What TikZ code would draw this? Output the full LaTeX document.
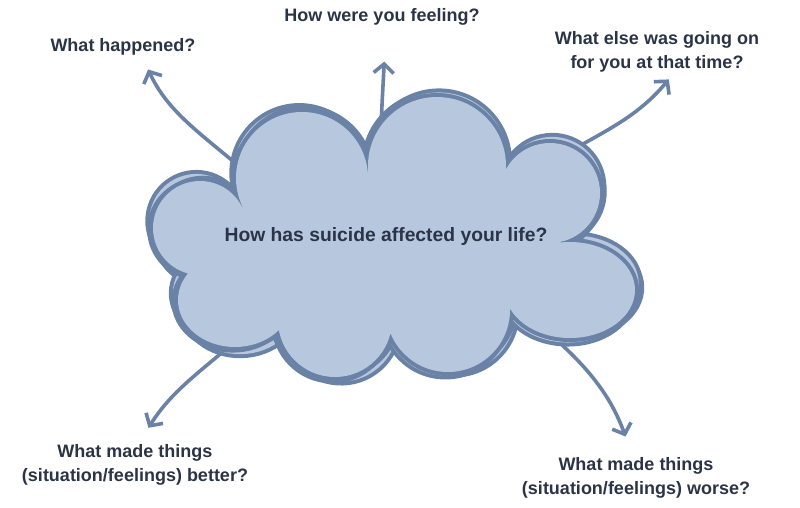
\documentclass[tikz,border=0pt]{standalone}
\usepackage{fontspec}
\setmainfont{Liberation Sans}
\usepackage{xcolor}
\usepackage{tikz}
\usetikzlibrary{arrows.meta}

\definecolor{cloudline}{HTML}{6A82A6}
\definecolor{cloudfill}{HTML}{B6C7DE}
\definecolor{ink}{HTML}{2B3446}

% bumps of the cloud, all in one path
\newcommand\cloudbumps{
  (200,279) circle[radius=47]
  (302,329) circle[radius=66]
  (437,341) circle[radius=69]
  (550,314) circle[radius=50]
  (570,217) ellipse[x radius=65, y radius=48]
  (448,197) circle[radius=62]
  (335,187) circle[radius=57]
  (235,207) ellipse[x radius=57, y radius=47]
}
% the middle of the cloud, between the bumps (same turning sense as the circles)
\newcommand\cloudcore{
  (200,279) -- (235,207) -- (335,187) -- (448,197) -- (570,217)
  -- (550,314) -- (437,341) -- (302,329) -- cycle
}

\begin{document}
\begin{tikzpicture}[
  x=1pt, y=1pt,
  q/.style={text=ink, font=\bfseries\fontsize{18}{24}\selectfont, align=center, inner sep=3pt},
  arr/.style={draw=cloudline, line width=3.6pt, -{Straight Barb[length=9pt,width=20pt]}}
]
  \useasboundingbox (0,0) rectangle (800,507);

  \node[q] (hap) at (123,460) {What happened?};
  \node[q] (feel) at (382,490) {How were you feeling?};
  \node[q] (ctx) at (657,455) {What else was going on\\for you at that time?};
  \node[q] (better) at (135,42) {What made things\\(situation/feelings) better?};
  \node[q] (worse) at (636,29) {What made things\\(situation/feelings) worse?};

  \coordinate (c1) at (240,340);
  \coordinate (c2) at (379,330);
  \coordinate (c3) at (560,350);
  \coordinate (c4) at (258,186);
  \coordinate (c5) at (545,177);

  \draw[arr, shorten >=12pt] (c1) to[out=140, in=-65] ([xshift=20pt]hap.south);
  \draw[arr, shorten >=33pt] (c2) to[out=88, in=-93] ([xshift=4pt]feel.south);
  \draw[arr, shorten >=5pt] (c3) to[out=30, in=-130] ([xshift=15pt]ctx.south);
  \draw[arr, shorten >=16pt] (c4) to[out=-137, in=58] ([xshift=5pt]better.north);
  \draw[arr, shorten >=19pt] (c5) to[out=-40, in=110] ([xshift=-4pt]worse.north);

  % sketchy cloud: a few shifted copies, each stroked then filled
  \foreach \dx/\dy/\rot in {4/-3/1.5, -4/3/-1.2, 3/4/0.8, -2/-3/-0.5, 0/0/0} {
    \begin{scope}[shift={(\dx,\dy)}, rotate around={\rot:(395,267)}]
      \draw[cloudline, line width=8pt] \cloudbumps;
      \fill[cloudfill] \cloudbumps \cloudcore;
    \end{scope}
  }

  \node[text=ink, font=\bfseries\fontsize{19.3}{24}\selectfont] (mid) at (386,270) {How has suicide affected your life?};
\end{tikzpicture}
\end{document}
